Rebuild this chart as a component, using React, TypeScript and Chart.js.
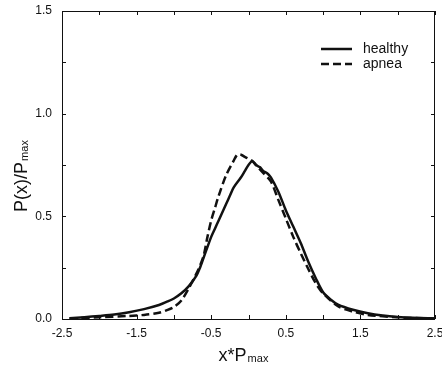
import React, { useEffect, useRef } from "react";
import { Chart, registerables } from "chart.js";

Chart.register(...registerables);

const HEALTHY_X = [-2.4, -2.2, -2.0, -1.8, -1.6, -1.4, -1.2, -1.1, -1.0, -0.9, -0.8, -0.7, -0.65, -0.6, -0.5, -0.45, -0.4, -0.3, -0.25, -0.2, -0.1, -0.05, 0.0, 0.05, 0.1, 0.15, 0.2, 0.25, 0.3, 0.4, 0.5, 0.6, 0.7, 0.8, 0.9, 1.0, 1.1, 1.2, 1.4, 1.6, 1.8, 2.0, 2.2, 2.5];
const HEALTHY_Y = [0.004, 0.009, 0.015, 0.022, 0.033, 0.048, 0.068, 0.083, 0.1, 0.125, 0.16, 0.21, 0.25, 0.3, 0.4, 0.44, 0.48, 0.56, 0.6, 0.64, 0.69, 0.72, 0.75, 0.77, 0.75, 0.74, 0.72, 0.71, 0.69, 0.62, 0.53, 0.45, 0.37, 0.28, 0.2, 0.13, 0.095, 0.07, 0.045, 0.028, 0.017, 0.01, 0.006, 0.003];

const APNEA_X = [-2.4, -2.0, -1.6, -1.4, -1.2, -1.1, -1.0, -0.9, -0.8, -0.7, -0.65, -0.6, -0.55, -0.5, -0.45, -0.4, -0.3, -0.2, -0.15, -0.1, -0.05, 0.0, 0.05, 0.1, 0.2, 0.3, 0.4, 0.5, 0.6, 0.7, 0.8, 0.9, 1.0, 1.2, 1.4, 1.6, 2.0, 2.5];
const APNEA_Y = [0.003, 0.008, 0.015, 0.02, 0.03, 0.042, 0.058, 0.09, 0.15, 0.22, 0.26, 0.31, 0.4, 0.48, 0.54, 0.6, 0.7, 0.77, 0.8, 0.8, 0.79, 0.78, 0.77, 0.75, 0.71, 0.67, 0.58, 0.49, 0.4, 0.32, 0.245, 0.175, 0.125, 0.062, 0.036, 0.02, 0.008, 0.002];

const X_TICKS = [-2.5, -1.5, -0.5, 0.5, 1.5, 2.5];
const X_MINOR = [-2, -1, 0, 1, 2];
const Y_TICKS = [0, 0.5, 1.0, 1.5];
const Y_MINOR = [0.25, 0.75, 1.25];

const SERIES_NAMES = ["healthy", "apnea"];
const FONT = "'Liberation Sans', Arial, Helvetica, sans-serif";
const INK = "#111";

const framePlugin = {
  id: "frame",
  afterDraw(chart: any) {
    const { ctx, chartArea, scales } = chart;
    const { left, right, top, bottom } = chartArea;
    const xs = scales.x;
    const ys = scales.y;
    ctx.save();
    ctx.strokeStyle = INK;
    ctx.lineWidth = 1;
    ctx.setLineDash([]);
    ctx.strokeRect(left + 0.5, top + 0.5, right - left - 1, bottom - top);

    const tick = (x1: number, y1: number, x2: number, y2: number) => {
      ctx.beginPath();
      ctx.moveTo(x1, y1);
      ctx.lineTo(x2, y2);
      ctx.stroke();
    };
    X_TICKS.concat(X_MINOR).forEach((v) => {
      const px = Math.round(xs.getPixelForValue(v)) + 0.5;
      tick(px, bottom, px, bottom - 4);
      tick(px, top, px, top + 4);
    });
    Y_TICKS.concat(Y_MINOR).forEach((v) => {
      const py = Math.round(ys.getPixelForValue(v)) + 0.5;
      tick(left, py, left + 4, py);
      tick(right, py, right - 4, py);
    });

    // legend
    const ds = chart.data.datasets;
    const lx1 = right - 114;
    const lx2 = right - 83;
    const ly = [top + 38, top + 53];
    ds.forEach((d: any, i: number) => {
      ctx.strokeStyle = d.borderColor;
      ctx.lineWidth = d.borderWidth;
      ctx.setLineDash(d.borderDash || []);
      tick(lx1, ly[i], lx2, ly[i]);
      ctx.setLineDash([]);
      ctx.fillStyle = INK;
      ctx.font = `14px ${FONT}`;
      ctx.textBaseline = "middle";
      ctx.textAlign = "left";
      ctx.fillText(d.label, lx2 + 11, ly[i]);
    });

    // x title: x*P_max
    ctx.fillStyle = INK;
    ctx.textBaseline = "alphabetic";
    ctx.textAlign = "left";
    ctx.font = `18px ${FONT}`;
    const main = "x*P";
    const mw = ctx.measureText(main).width;
    ctx.font = `11px ${FONT}`;
    const sw = ctx.measureText("max").width;
    const cx = (left + right) / 2 - 5;
    const sx = cx - (mw + sw + 1) / 2;
    ctx.font = `18px ${FONT}`;
    ctx.fillText(main, sx, bottom + 42);
    ctx.font = `11px ${FONT}`;
    ctx.fillText("max", sx + mw + 1, bottom + 43);

    // y title: P(x)/P_max
    ctx.save();
    ctx.translate(27, (top + bottom) / 2 + 11);
    ctx.rotate(-Math.PI / 2);
    ctx.font = `18px ${FONT}`;
    const ym = "P(x)/P";
    const ymw = ctx.measureText(ym).width;
    ctx.font = `11px ${FONT}`;
    const ysw = ctx.measureText("max").width;
    const sy = -(ymw + ysw + 1) / 2;
    ctx.font = `18px ${FONT}`;
    ctx.fillText(ym, sy, 0);
    ctx.font = `11px ${FONT}`;
    ctx.fillText("max", sy + ymw + 1, 1);
    ctx.restore();

    ctx.restore();
  },
};

export default function App() {
  const ref = useRef<HTMLCanvasElement | null>(null);
  useEffect(() => {
    if (!ref.current) return;
    const chart = new Chart(ref.current, {
      type: "line",
      data: {
        datasets: [
          {
            label: SERIES_NAMES[0],
            data: HEALTHY_X.map((x, i) => ({ x, y: HEALTHY_Y[i] })),
            borderColor: INK,
            borderWidth: 2.5,
            pointRadius: 0,
            tension: 0.3,
            fill: false,
          },
          {
            label: SERIES_NAMES[1],
            data: APNEA_X.map((x, i) => ({ x, y: APNEA_Y[i] })),
            borderColor: INK,
            borderWidth: 2.5,
            borderDash: [8, 4],
            pointRadius: 0,
            tension: 0.3,
            fill: false,
          },
        ],
      },
      options: {
        animation: false,
        responsive: true,
        maintainAspectRatio: false,
        layout: { padding: { left: 0, top: 11, right: 7, bottom: 0 } },
        plugins: { legend: { display: false }, tooltip: { enabled: false } },
        scales: {
          x: {
            type: "linear",
            min: -2.5,
            max: 2.5,
            grid: { display: false, drawTicks: false },
            border: { display: false },
            ticks: {
              padding: 7,
              color: INK,
              font: { family: FONT, size: 12 },
              maxRotation: 0,
              autoSkip: false,
              callback: (v: any) => Number(v).toFixed(1),
            },
            afterBuildTicks: (s: any) => {
              s.ticks = X_TICKS.map((value) => ({ value }));
            },
            afterFit: (s: any) => {
              s.height = 47;
              s.paddingLeft = 0;
              s.paddingRight = 0;
            },
          },
          y: {
            type: "linear",
            min: 0,
            max: 1.5,
            grid: { display: false, drawTicks: false },
            border: { display: false },
            ticks: {
              padding: 10,
              color: INK,
              font: { family: FONT, size: 12 },
              callback: (v: any) => Number(v).toFixed(1),
            },
            afterBuildTicks: (s: any) => {
              s.ticks = Y_TICKS.map((value) => ({ value }));
            },
            afterFit: (s: any) => {
              s.width = 62;
              s.paddingTop = 0;
              s.paddingBottom = 0;
            },
          },
        },
      },
      plugins: [framePlugin],
    });
    return () => chart.destroy();
  }, []);
  return (
    <div style={{ position: "absolute", left: 0, top: 0, width: 442, height: 366, background: "#fff" }}>
      <canvas ref={ref} />
    </div>
  );
}
